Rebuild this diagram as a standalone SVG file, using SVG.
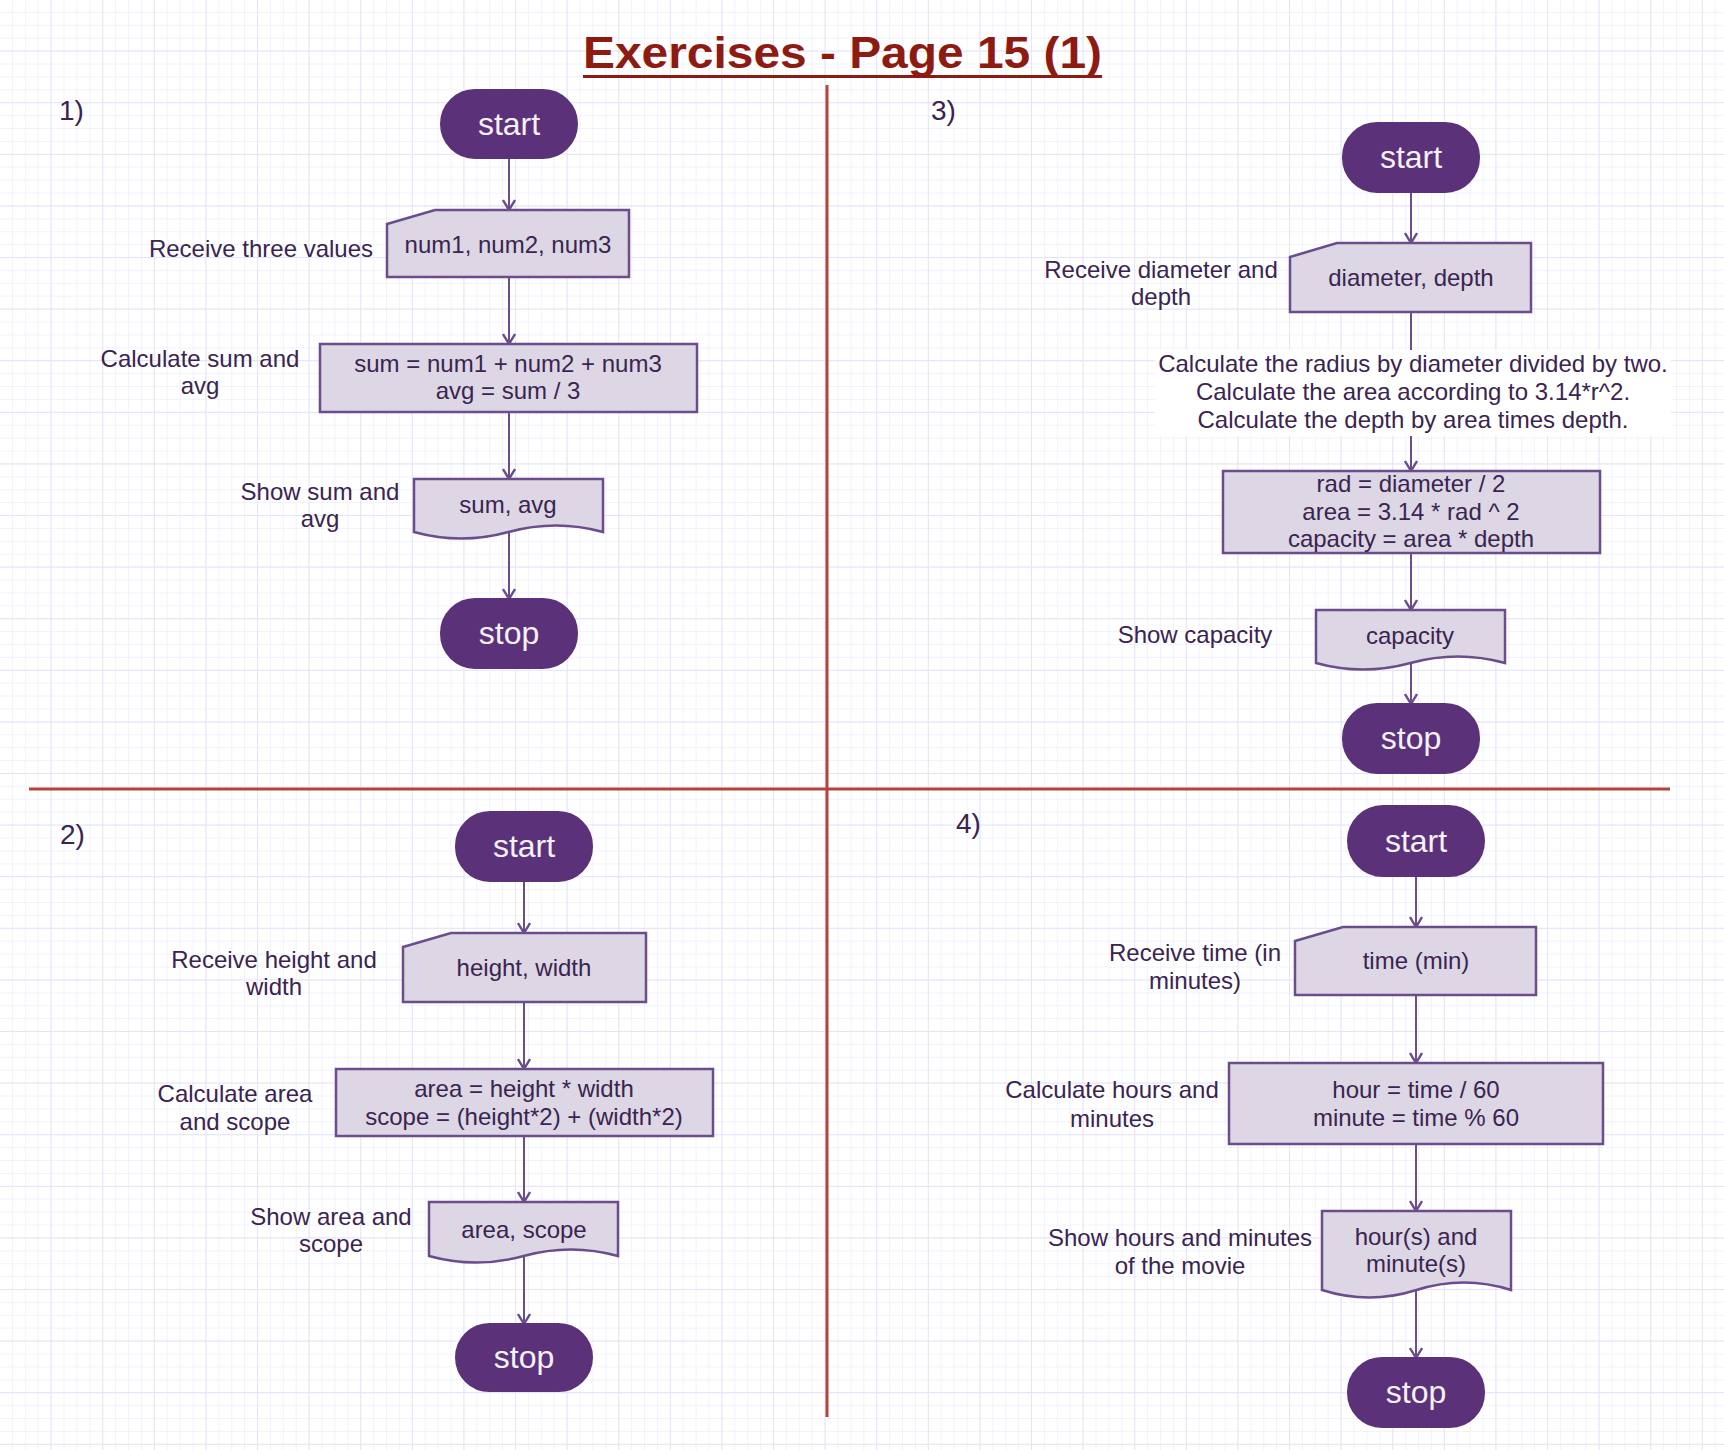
<svg xmlns="http://www.w3.org/2000/svg" width="1724" height="1450" viewBox="0 0 1724 1450">
<defs>
<style>
text{font-family:"Liberation Sans",Arial,sans-serif;}
.term{fill:#5b3279;stroke:#5b3279;stroke-width:2;}
.box{fill:#ddd6e4;stroke:#6b4c8c;stroke-width:2.5;}
.tt{fill:#f4f1f8;font-size:32px;text-anchor:middle;}
.nt{fill:#3a2450;font-size:24px;text-anchor:middle;}
.lb{fill:#3a2450;font-size:24px;text-anchor:middle;}
.num{fill:#3a2450;font-size:28px;}
.edge{stroke:#6b4c8c;stroke-width:2;fill:none;marker-end:url(#arr);}
.div{stroke:#b3443a;stroke-width:3;}
</style>
<marker id="arr" markerUnits="userSpaceOnUse" markerWidth="14" markerHeight="14" viewBox="0 0 14 14" refX="12" refY="7" orient="auto">
<path d="M2,1 L12,7 L2,13" fill="none" stroke="#6b4c8c" stroke-width="2.4"/>
</marker>
<pattern id="gminor" width="12.9" height="12.9" patternUnits="userSpaceOnUse">
<path d="M12.9,0 V12.9 M0,12.9 H12.9" stroke="#eeeefc" stroke-width="1.5" fill="none"/>
</pattern>
<pattern id="gmajor" width="51.6" height="51.6" patternUnits="userSpaceOnUse">
<path d="M51.6,0 V51.6 M0,51.6 H51.6" stroke="#e4e4f8" stroke-width="1.8" fill="none"/>
</pattern>
</defs>
<rect width="1724" height="1450" fill="#ffffff"/>
<rect width="1724" height="1450" fill="url(#gminor)"/>
<rect width="1724" height="1450" fill="url(#gmajor)"/>

<g id="title">
<text x="583" y="68" font-size="45" font-weight="bold" fill="#8e1b12" textLength="519" lengthAdjust="spacingAndGlyphs">Exercises - Page 15 (1)</text>
<rect x="583" y="75" width="519" height="3" fill="#8e1b12"/>
</g>

<g id="dividers">
<line class="div" x1="827" y1="85" x2="827" y2="1417"/>
<line class="div" x1="29" y1="789" x2="1670" y2="789"/>
</g>

<g id="panel-numbers">
<text class="num" x="59" y="120">1)</text>
<text class="num" x="931" y="120">3)</text>
<text class="num" x="60" y="844">2)</text>
<text class="num" x="956" y="833">4)</text>
</g>

<g id="connectors">
<line class="edge" x1="509" y1="158" x2="509" y2="210"/>
<line class="edge" x1="509" y1="277" x2="509" y2="344"/>
<line class="edge" x1="509" y1="412" x2="509" y2="479"/>
<line class="edge" x1="509" y1="532" x2="509" y2="599"/>

<line class="edge" x1="1411" y1="192" x2="1411" y2="243"/>
<line class="edge" x1="1411" y1="312" x2="1411" y2="471"/>
<line class="edge" x1="1411" y1="553" x2="1411" y2="610"/>
<line class="edge" x1="1411" y1="663" x2="1411" y2="704"/>

<line class="edge" x1="524" y1="881" x2="524" y2="933"/>
<line class="edge" x1="524" y1="1002" x2="524" y2="1069"/>
<line class="edge" x1="524" y1="1136" x2="524" y2="1202"/>
<line class="edge" x1="524" y1="1256" x2="524" y2="1324"/>

<line class="edge" x1="1416" y1="876" x2="1416" y2="927"/>
<line class="edge" x1="1416" y1="995" x2="1416" y2="1063"/>
<line class="edge" x1="1416" y1="1144" x2="1416" y2="1211"/>
<line class="edge" x1="1416" y1="1290" x2="1416" y2="1358"/>

<g id="edge-label-p3">
<rect x="1155" y="350" width="516" height="86" fill="#ffffff"/>
<text class="lb" x="1413" y="372">Calculate the radius by diameter divided by two.</text>
<text class="lb" x="1413" y="400">Calculate the area according to 3.14*r^2.</text>
<text class="lb" x="1413" y="428">Calculate the depth by area times depth.</text>
</g>
</g>

<!-- Panel 1 -->
<g id="p1-start">
<rect class="term" x="441" y="90" width="136" height="68" rx="34"/>
<text class="tt" x="509" y="135">start</text>
</g>
<g id="p1-input">
<path class="box" d="M387,224 L435,210 L629,210 L629,277 L387,277 Z"/>
<text class="nt" x="508" y="253">num1, num2, num3</text>
<text class="lb" x="261" y="257">Receive three values</text>
</g>
<g id="p1-process">
<rect class="box" x="320" y="344" width="377" height="68"/>
<text class="nt" x="508" y="372">sum = num1 + num2 + num3</text>
<text class="nt" x="508" y="399">avg = sum / 3</text>
<text class="lb" x="200" y="367">Calculate sum and</text>
<text class="lb" x="200" y="394">avg</text>
</g>
<g id="p1-output">
<path class="box" d="M414,479 H603 V532 Q556,519 508.5,532 Q461,545 414,532 Z"/>
<text class="nt" x="508" y="513">sum, avg</text>
<text class="lb" x="320" y="500">Show sum and</text>
<text class="lb" x="320" y="527">avg</text>
</g>
<g id="p1-stop">
<rect class="term" x="441" y="599" width="136" height="69" rx="34"/>
<text class="tt" x="509" y="644">stop</text>
</g>

<!-- Panel 3 -->
<g id="p3-start">
<rect class="term" x="1343" y="123" width="136" height="69" rx="34"/>
<text class="tt" x="1411" y="168">start</text>
</g>
<g id="p3-input">
<path class="box" d="M1290,257 L1337,243 L1531,243 L1531,312 L1290,312 Z"/>
<text class="nt" x="1411" y="286">diameter, depth</text>
<text class="lb" x="1161" y="278">Receive diameter and</text>
<text class="lb" x="1161" y="305">depth</text>
</g>
<g id="p3-process">
<rect class="box" x="1223" y="471" width="377" height="82"/>
<text class="nt" x="1411" y="492">rad = diameter / 2</text>
<text class="nt" x="1411" y="520">area = 3.14 * rad ^ 2</text>
<text class="nt" x="1411" y="547">capacity = area * depth</text>
</g>
<g id="p3-output">
<path class="box" d="M1316,610 H1505 V663 Q1458,650 1410.5,663 Q1363,676 1316,663 Z"/>
<text class="nt" x="1410" y="644">capacity</text>
<text class="lb" x="1195" y="643">Show capacity</text>
</g>
<g id="p3-stop">
<rect class="term" x="1343" y="704" width="136" height="69" rx="34"/>
<text class="tt" x="1411" y="749">stop</text>
</g>

<!-- Panel 2 -->
<g id="p2-start">
<rect class="term" x="456" y="812" width="136" height="69" rx="34"/>
<text class="tt" x="524" y="857">start</text>
</g>
<g id="p2-input">
<path class="box" d="M403,947 L451,933 L646,933 L646,1002 L403,1002 Z"/>
<text class="nt" x="524" y="976">height, width</text>
<text class="lb" x="274" y="968">Receive height and</text>
<text class="lb" x="274" y="995">width</text>
</g>
<g id="p2-process">
<rect class="box" x="336" y="1069" width="377" height="67"/>
<text class="nt" x="524" y="1097">area = height * width</text>
<text class="nt" x="524" y="1125">scope = (height*2) + (width*2)</text>
<text class="lb" x="235" y="1102">Calculate area</text>
<text class="lb" x="235" y="1130">and scope</text>
</g>
<g id="p2-output">
<path class="box" d="M429,1202 H618 V1256 Q571,1243 523.5,1256 Q476,1269 429,1256 Z"/>
<text class="nt" x="524" y="1238">area, scope</text>
<text class="lb" x="331" y="1225">Show area and</text>
<text class="lb" x="331" y="1252">scope</text>
</g>
<g id="p2-stop">
<rect class="term" x="456" y="1324" width="136" height="67" rx="33.5"/>
<text class="tt" x="524" y="1368">stop</text>
</g>

<!-- Panel 4 -->
<g id="p4-start">
<rect class="term" x="1348" y="806" width="136" height="70" rx="35"/>
<text class="tt" x="1416" y="852">start</text>
</g>
<g id="p4-input">
<path class="box" d="M1295,941 L1343,927 L1536,927 L1536,995 L1295,995 Z"/>
<text class="nt" x="1416" y="969">time (min)</text>
<text class="lb" x="1195" y="961">Receive time (in</text>
<text class="lb" x="1195" y="989">minutes)</text>
</g>
<g id="p4-process">
<rect class="box" x="1229" y="1063" width="374" height="81"/>
<text class="nt" x="1416" y="1098">hour = time / 60</text>
<text class="nt" x="1416" y="1126">minute = time % 60</text>
<text class="lb" x="1112" y="1098">Calculate hours and</text>
<text class="lb" x="1112" y="1127">minutes</text>
</g>
<g id="p4-output">
<path class="box" d="M1322,1211 H1511 V1290 Q1464,1275 1416.5,1290 Q1369,1305 1322,1290 Z"/>
<text class="nt" x="1416" y="1245">hour(s) and</text>
<text class="nt" x="1416" y="1272">minute(s)</text>
<text class="lb" x="1180" y="1246">Show hours and minutes</text>
<text class="lb" x="1180" y="1274">of the movie</text>
</g>
<g id="p4-stop">
<rect class="term" x="1348" y="1358" width="136" height="69" rx="34"/>
<text class="tt" x="1416" y="1403">stop</text>
</g>
</svg>
